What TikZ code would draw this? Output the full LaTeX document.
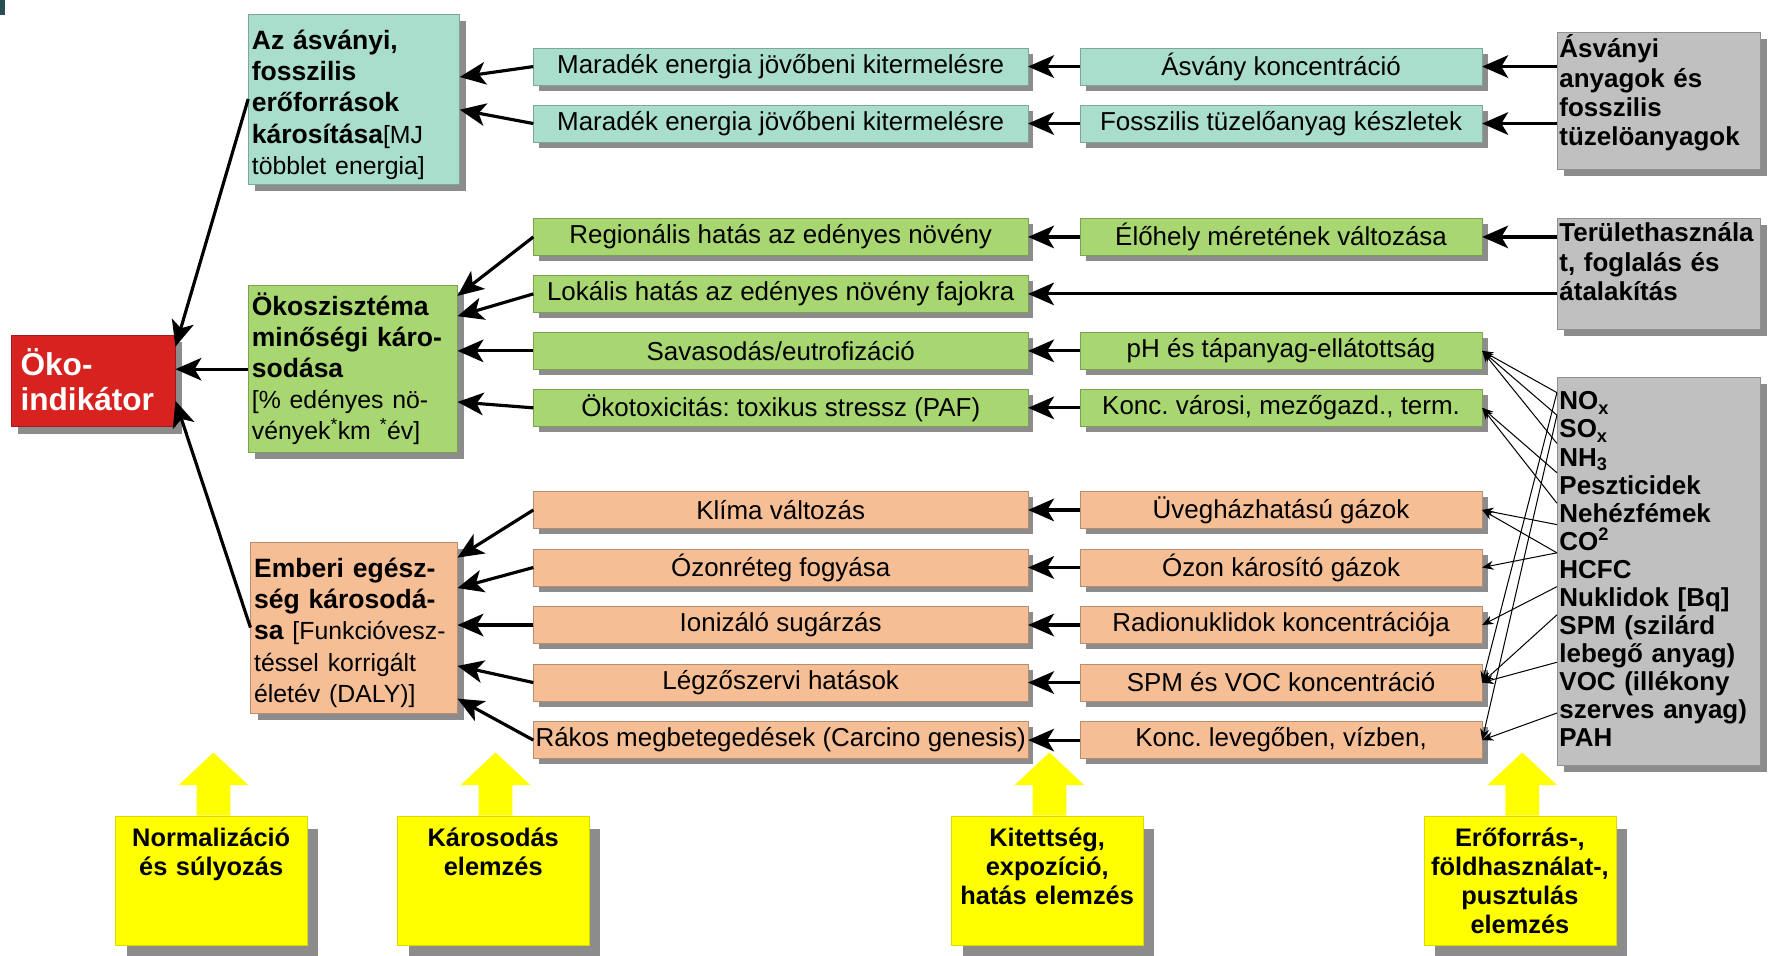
\documentclass[tikz,border=0pt]{standalone}
\usepackage{fontspec}
\setmainfont{Liberation Sans}
\usetikzlibrary{arrows.meta,positioning,calc,shadows}
\frenchspacing

\definecolor{ctea}{RGB}{170,222,204}
\definecolor{cgrn}{RGB}{168,214,112}
\definecolor{corg}{RGB}{246,190,148}
\definecolor{cgry}{RGB}{192,192,192}
\definecolor{cred}{RGB}{216,34,32}
\definecolor{cyel}{RGB}{255,255,0}
\definecolor{cdark}{RGB}{40,78,84}

\newcommand{\normtxt}[1]{{\mdseries\fontsize{22}{27.5}\selectfont #1}}

\begin{document}
\begin{tikzpicture}[
  x=1pt, y=-1pt,
  >={Stealth[length=23pt,width=20pt,inset=6pt]},
  shd/.style={drop shadow={shadow xshift=#1, shadow yshift=-#1, fill=black!45, opacity=1}},
  box/.style={rectangle, draw=#1!75!black, fill=#1, line width=0.5pt, minimum height=33pt,
              inner sep=0pt, font=\fontsize{23}{26}\selectfont, shd=5pt},
  lbox/.style={box=#1, minimum width=438pt},
  rbox/.style={box=#1, minimum width=356pt},
  big/.style={rectangle, draw=#1!75!black, fill=#1, line width=0.5pt, anchor=north west,
              inner xsep=3pt, inner ysep=4pt, align=left,
              font=\fontsize{23.5}{27.5}\selectfont\bfseries, shd=6pt},
  src/.style={big=cgry, inner xsep=2pt, text width=176pt, font=\fontsize{23}{26}\selectfont\bfseries},
  yel/.style={rectangle, fill=cyel, draw=cyel!85!black, line width=0.4pt, anchor=north west,
              align=center, text width=162pt, inner xsep=4pt, inner ysep=4pt,
              text height=23pt, text depth=84pt, font=\fontsize{22.5}{25.7}\selectfont\bfseries,
              drop shadow={shadow xshift=10pt, shadow yshift=-12pt, fill=black!45, opacity=1}},
  tr/.style={->, line width=2.8pt},
  lnk/.style={-{Stealth[length=10pt,width=8pt]}, line width=0.9pt},
]
\useasboundingbox (0,0) rectangle (1568,847);
\fill[cdark] (0,0) rectangle (4,13);

% damage categories and the indicator
\node[big=cred, text=white, inner xsep=8pt, text width=129pt, text height=32pt, text depth=41pt,
      font=\fontsize{28}{31}\selectfont\bfseries] (ind) at (10,297) {Öko-\\indikátor};
\node[big=ctea, text width=181pt, text height=28pt, text depth=115pt] (res) at (220,12)
  {Az ásványi,\\fosszilis\\erőforrások\\károsítása\normtxt{[MJ}\\\normtxt{többlet energia]}};
\node[big=cgrn, text width=179pt, text height=22pt, text depth=118pt] (eco) at (220,253)
  {Ökoszisztéma\\minőségi káro-\\sodása\\\normtxt{[\% edényes nö-}\\\normtxt{vények\textsuperscript{*}km \textsuperscript{*}év]}};
\node[big=corg, text width=177pt, text height=28pt, text depth=116pt] (hum) at (222,480)
  {Emberi egész-\\ség károsodá-\\sa \normtxt{[Funkcióvesz-}\\\normtxt{téssel korrigált}\\\normtxt{életév (DALY)]}};

% damage column
\node[lbox=ctea] (m1) at (692,59) {Maradék energia jövőbeni kitermelésre};
\node[lbox=ctea, below=17pt of m1] (m2) {Maradék energia jövőbeni kitermelésre};
\node[lbox=cgrn, below=67pt of m2] (reg) {Regionális hatás az edényes növény};
\node[lbox=cgrn, below=17pt of reg] (lok) {Lokális hatás az edényes növény fajokra};
\node[lbox=cgrn, below=17pt of lok] (sav) {Savasodás/eutrofizáció};
\node[lbox=cgrn, below=17pt of sav] (tox) {Ökotoxicitás: toxikus stressz (PAF)};
\node[lbox=corg, below=57pt of tox] (kli) {Klíma változás};
\node[lbox=corg, below=17.5pt of kli] (ozr) {Ózonréteg fogyása};
\node[lbox=corg, below=17.5pt of ozr] (ion) {Ionizáló sugárzás};
\node[lbox=corg, below=17.5pt of ion] (lgz) {Légzőszervi hatások};
\node[lbox=corg, below=17.5pt of lgz] (rak) {Rákos megbetegedések (Carcino genesis)};

% exposure column
\node[rbox=ctea, right=46pt of m1] (ak) {Ásvány koncentráció};
\node[rbox=ctea, right=46pt of m2] (fk) {Fosszilis tüzelőanyag készletek};
\node[rbox=cgrn, right=46pt of reg] (el) {Élőhely méretének változása};
\node[rbox=cgrn, right=46pt of sav] (ph) {pH és tápanyag-ellátottság};
\node[rbox=cgrn, right=46pt of tox] (kv) {Konc. városi, mezőgazd., term.};
\node[rbox=corg, right=46pt of kli] (uv) {Üvegházhatású gázok};
\node[rbox=corg, right=46pt of ozr] (ok) {Ózon károsító gázok};
\node[rbox=corg, right=46pt of ion] (rn) {Radionuklidok koncentrációja};
\node[rbox=corg, right=46pt of lgz] (sv) {SPM és VOC koncentráció};
\node[rbox=corg, right=46pt of rak] (kl) {Konc. levegőben, vízben,};

% sources
\node[src, text height=19pt, text depth=95pt] (g1) at (1380,28)
  {Ásványi\\anyagok és\\fosszilis\\tüzelöanyagok};
\node[src, text height=17pt, text depth=74pt] (g2) at (1380,193)
  {Területhasznála\\t, foglalás és\\átalakítás};
\node[src, font=\fontsize{23}{24.9}\selectfont\bfseries, text height=25pt, text depth=311pt] (g3) at (1380,334)
  {NO\textsubscript{x}\\SO\textsubscript{x}\\NH\textsubscript{3}\\Peszticidek\\Nehézfémek\\CO\textsuperscript{2}\\HCFC\\Nuklidok [Bq]\\SPM (szilárd\\lebegő anyag)\\VOC (illékony\\szerves anyag)\\PAH};

% analysis steps
\node[yel] (y1) at (102,723) {Normalizáció\\és súlyozás};
\node[yel] (y2) at (352,723) {Károsodás\\elemzés};
\node[yel] (y3) at (843,723) {Kitettség,\\expozíció,\\hatás elemzés};
\node[yel] (y4) at (1262,723) {Erőforrás-,\\földhasználat-,\\pusztulás\\elemzés};
\foreach \n in {y1,y2,y3,y4}
  \fill[cyel] ($(\n.north)+(-13,0)$) -- ++(0,-27) -- ++(-16,0) -- ++(31,-29) -- ++(31,29) -- ++(-16,0) -- ++(0,27) -- cycle;

% thick connectors
\draw[tr] (res.west) -- ([yshift=30.5pt]ind.east);
\draw[tr] (eco.west) -- (eco.west -| ind.east);
\draw[tr] (hum.west) -- ([yshift=-17.5pt]ind.east);

\draw[tr] (m1.west) -- ([yshift=19.5pt]res.east);
\draw[tr] (m2.west) -- ([yshift=-9.5pt]res.east);
\draw[tr] (reg.west) -- ([yshift=65pt]eco.east);
\draw[tr] (lok.west) -- ([yshift=47pt]eco.east);
\draw[tr] (sav.west) -- (sav.west -| eco.east);
\draw[tr] (tox.west) -- ([yshift=-29pt]eco.east);
\draw[tr] (kli.west) -- ([yshift=62pt]hum.east);
\draw[tr] (ozr.west) -- ([yshift=35pt]hum.east);
\draw[tr] (ion.west) -- (ion.west -| hum.east);
\draw[tr] (lgz.west) -- ([yshift=-34pt]hum.east);
\draw[tr] (rak.west) -- ([yshift=-63pt]hum.east);

\draw[tr] (ak.west) -- (m1.east);
\draw[tr] (fk.west) -- (m2.east);
\draw[tr] (el.west) -- (reg.east);
\draw[tr] (ph.west) -- (sav.east);
\draw[tr] (kv.west) -- (tox.east);
\draw[tr] (uv.west) -- (kli.east);
\draw[tr] (ok.west) -- (ozr.east);
\draw[tr] (rn.west) -- (ion.east);
\draw[tr] (sv.west) -- (lgz.east);
\draw[tr] (kl.west) -- (rak.east);

\draw[tr] (g1.west |- ak.east) -- (ak.east);
\draw[tr] (g1.west |- fk.east) -- (fk.east);
\draw[tr] (g2.west |- el.east) -- (el.east);
\draw[tr] (g2.west |- lok.east) -- (lok.east);

% thin links from the emission list
\coordinate (nox) at ($(g3.north west)+(0,14)$);
\coordinate (sox) at ($(g3.north west)+(0,34)$);
\coordinate (nh) at ($(g3.north west)+(0,59)$);
\coordinate (pesz) at ($(g3.north west)+(0,85)$);
\coordinate (neh) at ($(g3.north west)+(0,112)$);
\coordinate (co) at ($(g3.north west)+(0,131)$);
\coordinate (hcfc) at ($(g3.north west)+(0,156)$);
\coordinate (nukl) at ($(g3.north west)+(0,186)$);
\coordinate (spm) at ($(g3.north west)+(0,211)$);
\coordinate (leb) at ($(g3.north west)+(0,253)$);
\coordinate (szerv) at ($(g3.north west)+(0,298)$);
\foreach \p/\q in {nox/ph, sox/ph, nh/ph, pesz/kv, neh/kv, co/uv, hcfc/uv, hcfc/ok,
                   nukl/rn, spm/sv, leb/sv, nox/sv, szerv/kl, sox/kl}
  \draw[lnk] (\p) -- (\q.east);
\end{tikzpicture}
\end{document}
